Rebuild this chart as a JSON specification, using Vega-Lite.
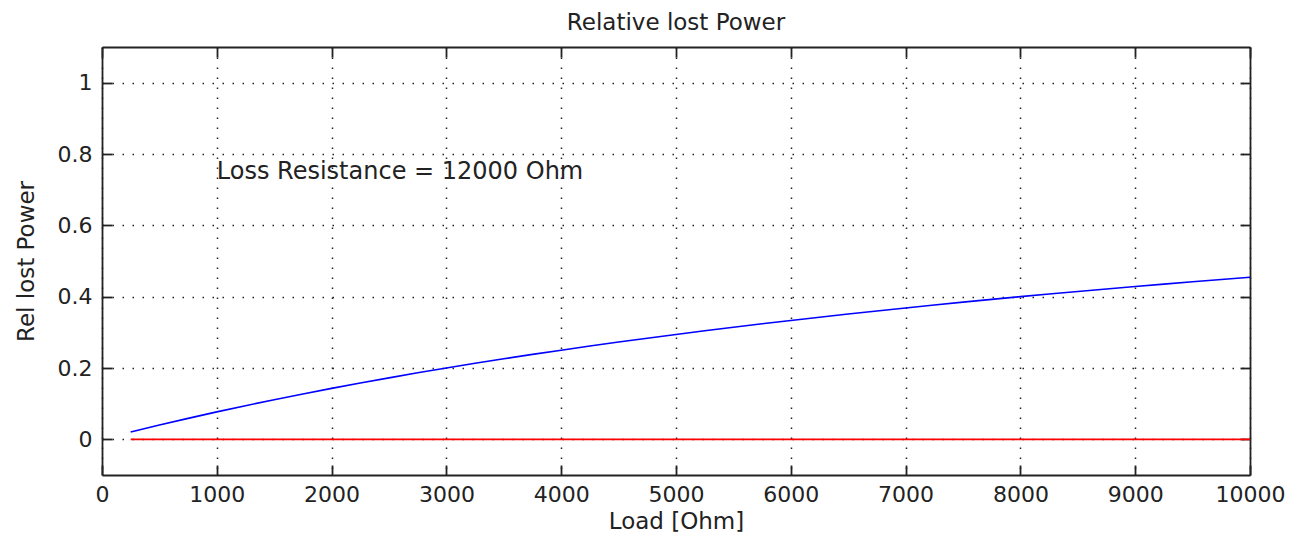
{
  "$schema": "https://vega.github.io/schema/vega-lite/v6.json",
  "autosize": {"type": "none"},
  "padding": {"left": 102, "top": 47, "right": 39, "bottom": 62},
  "width": 1148,
  "height": 428,
  "background": "white",
  "config": {
    "view": {"stroke": null},
    "font": "DejaVu Sans",
    "axis": {
      "domainColor": "#222",
      "domainWidth": 1.8,
      "tickColor": "#222",
      "tickWidth": 1.8,
      "tickSize": -10,
      "labelFont": "DejaVu Sans",
      "labelFontSize": 22,
      "labelColor": "#222",
      "titleFont": "DejaVu Sans",
      "titleFontSize": 23,
      "titleFontWeight": "normal",
      "titleColor": "#222",
      "gridColor": "#222",
      "gridWidth": 1.5,
      "gridDash": [1.5, 8.5],
      "gridOpacity": 1
    }
  },
  "title": {
    "text": "Relative lost Power",
    "fontSize": 23,
    "fontWeight": "normal",
    "font": "DejaVu Sans",
    "color": "#222",
    "anchor": "middle",
    "offset": 11
  },
  "datasets": {
    "curves": [
      {"load": 250, "value": 0.02041, "series": "loss"},
      {"load": 500, "value": 0.04, "series": "loss"},
      {"load": 750, "value": 0.05882, "series": "loss"},
      {"load": 1000, "value": 0.07692, "series": "loss"},
      {"load": 1250, "value": 0.09434, "series": "loss"},
      {"load": 1500, "value": 0.11111, "series": "loss"},
      {"load": 1750, "value": 0.12727, "series": "loss"},
      {"load": 2000, "value": 0.14286, "series": "loss"},
      {"load": 2250, "value": 0.15789, "series": "loss"},
      {"load": 2500, "value": 0.17241, "series": "loss"},
      {"load": 2750, "value": 0.18644, "series": "loss"},
      {"load": 3000, "value": 0.2, "series": "loss"},
      {"load": 3250, "value": 0.21311, "series": "loss"},
      {"load": 3500, "value": 0.22581, "series": "loss"},
      {"load": 3750, "value": 0.2381, "series": "loss"},
      {"load": 4000, "value": 0.25, "series": "loss"},
      {"load": 4250, "value": 0.26154, "series": "loss"},
      {"load": 4500, "value": 0.27273, "series": "loss"},
      {"load": 4750, "value": 0.28358, "series": "loss"},
      {"load": 5000, "value": 0.29412, "series": "loss"},
      {"load": 5250, "value": 0.30435, "series": "loss"},
      {"load": 5500, "value": 0.31429, "series": "loss"},
      {"load": 5750, "value": 0.32394, "series": "loss"},
      {"load": 6000, "value": 0.33333, "series": "loss"},
      {"load": 6250, "value": 0.34247, "series": "loss"},
      {"load": 6500, "value": 0.35135, "series": "loss"},
      {"load": 6750, "value": 0.36, "series": "loss"},
      {"load": 7000, "value": 0.36842, "series": "loss"},
      {"load": 7250, "value": 0.37662, "series": "loss"},
      {"load": 7500, "value": 0.38462, "series": "loss"},
      {"load": 7750, "value": 0.39241, "series": "loss"},
      {"load": 8000, "value": 0.4, "series": "loss"},
      {"load": 8250, "value": 0.40741, "series": "loss"},
      {"load": 8500, "value": 0.41463, "series": "loss"},
      {"load": 8750, "value": 0.42169, "series": "loss"},
      {"load": 9000, "value": 0.42857, "series": "loss"},
      {"load": 9250, "value": 0.43529, "series": "loss"},
      {"load": 9500, "value": 0.44186, "series": "loss"},
      {"load": 9750, "value": 0.44828, "series": "loss"},
      {"load": 10000, "value": 0.45455, "series": "loss"},
      {"load": 250, "value": 0, "series": "zero"},
      {"load": 10000, "value": 0, "series": "zero"}
    ],
    "note": [
      {"load": 1000, "value": 0.75, "label": "Loss Resistance = 12000 Ohm"}
    ]
  },
  "layer": [
    {
      "data": {"name": "curves"},
      "mark": {"type": "line", "strokeWidth": 1.6},
      "encoding": {
        "x": {
          "field": "load", "type": "quantitative",
          "scale": {"domain": [0, 10000], "nice": false, "zero": false},
          "axis": {"orient": "bottom", "title": "Load [Ohm]", "format": "d", "values": [0,1000,2000,3000,4000,5000,6000,7000,8000,9000,10000], "grid": true, "labelPadding": 19, "titlePadding": 5, "labelFlush": false, "labelOverlap": false}
        },
        "y": {
          "field": "value", "type": "quantitative",
          "scale": {"domain": [-0.1, 1.1], "nice": false, "zero": false},
          "axis": {"orient": "left", "title": "Rel lost Power", "format": "~g", "values": [0, 0.2, 0.4, 0.6, 0.8, 1], "grid": true, "labelPadding": 20, "titlePadding": 19, "labelFlush": false, "labelOverlap": false}
        },
        "color": {
          "field": "series", "type": "nominal",
          "scale": {"domain": ["loss", "zero"], "range": ["#0000ff", "#ff0000"]},
          "legend": null
        },
        "detail": {"field": "series"}
      }
    },
    {
      "data": {"name": "note"},
      "mark": {"type": "text", "align": "left", "baseline": "middle", "fontSize": 24, "font": "DejaVu Sans", "color": "#222"},
      "encoding": {
        "x": {
          "field": "load", "type": "quantitative",
          "axis": {"orient": "top", "title": null, "labels": false, "grid": false, "values": [0,1000,2000,3000,4000,5000,6000,7000,8000,9000,10000]}
        },
        "y": {
          "field": "value", "type": "quantitative",
          "axis": {"orient": "right", "title": null, "labels": false, "grid": false, "values": [0, 0.2, 0.4, 0.6, 0.8, 1]}
        },
        "text": {"field": "label"}
      }
    }
  ],
  "resolve": {"axis": {"x": "independent", "y": "independent"}}
}
